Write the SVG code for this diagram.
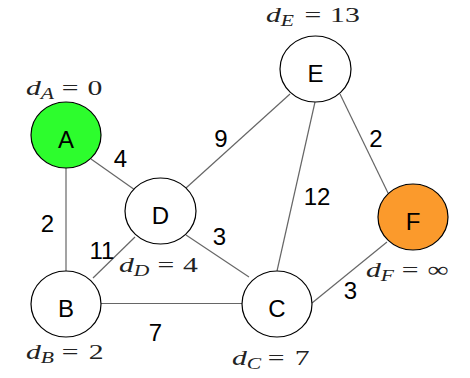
<svg xmlns="http://www.w3.org/2000/svg" width="470" height="378" viewBox="0 0 470 378">
<style>
.edge{stroke:#666;stroke-width:1.2;fill:none}
.node{stroke:#000;stroke-width:1.2}
.lbl{font-family:"Liberation Sans",Arial,sans-serif;font-size:24px;fill:#000;text-anchor:middle}
.w{font-family:"Liberation Sans",Arial,sans-serif;font-size:24px;fill:#000;text-anchor:middle}
.math{font-family:"Liberation Serif","Times New Roman",serif;font-size:22px;fill:#222}
.it{font-style:italic}
.sub{font-style:italic;font-size:16px}
</style>
<rect width="470" height="378" fill="#fff"/>
<g id="connectors">
<line class="edge" x1="66" y1="168" x2="66" y2="271"/>
<line class="edge" x1="91" y1="159" x2="135" y2="190"/>
<line class="edge" x1="186" y1="188" x2="290" y2="94"/>
<line class="edge" x1="315" y1="102" x2="277" y2="271"/>
<line class="edge" x1="340" y1="94" x2="388" y2="193"/>
<line class="edge" x1="135" y1="237" x2="93" y2="278"/>
<line class="edge" x1="186" y1="235" x2="249" y2="277"/>
<line class="edge" x1="101" y1="303.5" x2="242" y2="303.5"/>
<line class="edge" x1="312" y1="303" x2="387" y2="242"/>
<text class="w" x="120.5" y="167">4</text>
<text class="w" x="221" y="147">9</text>
<text class="w" x="376" y="147">2</text>
<text class="w" x="317" y="205">12</text>
<text class="w" x="47.5" y="232">2</text>
<text class="w" x="102" y="259">11</text>
<text class="w" x="219.5" y="245">3</text>
<text class="w" x="155.5" y="341">7</text>
<text class="w" x="350.5" y="299">3</text>
</g>
<g id="node-A"><ellipse class="node" cx="66" cy="135" rx="35" ry="33" fill="#2dfd2d"/><text class="lbl" x="66" y="148">A</text></g>
<g id="node-E"><ellipse class="node" cx="315.5" cy="69" rx="35.5" ry="33" fill="#fff"/><text class="lbl" x="315.5" y="82">E</text></g>
<g id="node-D"><ellipse class="node" cx="160.5" cy="211" rx="35.5" ry="33" fill="#fff"/><text class="lbl" x="160.5" y="224">D</text></g>
<g id="node-B"><ellipse class="node" cx="66" cy="304" rx="35" ry="33" fill="#fff"/><text class="lbl" x="66" y="317">B</text></g>
<g id="node-C"><ellipse class="node" cx="277" cy="304" rx="35" ry="33" fill="#fff"/><text class="lbl" x="277" y="317">C</text></g>
<g id="node-F"><ellipse class="node" cx="413" cy="217" rx="35" ry="33" fill="#fb9a2c"/><text class="lbl" x="413" y="230">F</text></g>
<g id="dist-labels">
<text class="math" transform="translate(26,95) scale(1.35,1)"><tspan class="it" x="0">d</tspan><tspan class="sub" x="11" dy="4">A</tspan><tspan x="26.5" dy="-4">=</tspan><tspan x="45.5">0</tspan></text>
<text class="math" transform="translate(266,22) scale(1.35,1)"><tspan class="it" x="0">d</tspan><tspan class="sub" x="11" dy="4">E</tspan><tspan x="28.5" dy="-4">=</tspan><tspan x="47.5">13</tspan></text>
<text class="math" transform="translate(119,272) scale(1.35,1)"><tspan class="it" x="0">d</tspan><tspan class="sub" x="11" dy="4">D</tspan><tspan x="28.5" dy="-4">=</tspan><tspan x="47.5">4</tspan></text>
<text class="math" transform="translate(26,359) scale(1.35,1)"><tspan class="it" x="0">d</tspan><tspan class="sub" x="11" dy="4">B</tspan><tspan x="26.5" dy="-4">=</tspan><tspan x="46.5">2</tspan></text>
<text class="math" transform="translate(232,365) scale(1.35,1)"><tspan class="it" x="0">d</tspan><tspan class="sub" x="11" dy="4">C</tspan><tspan x="26.5" dy="-4">=</tspan><tspan x="46.5">7</tspan></text>
<text class="math" transform="translate(366,277) scale(1.35,1)"><tspan class="it" x="0">d</tspan><tspan class="sub" x="11" dy="4">F</tspan><tspan x="26.5" dy="-4">=</tspan><tspan x="45.5">∞</tspan></text>
</g>
</svg>
